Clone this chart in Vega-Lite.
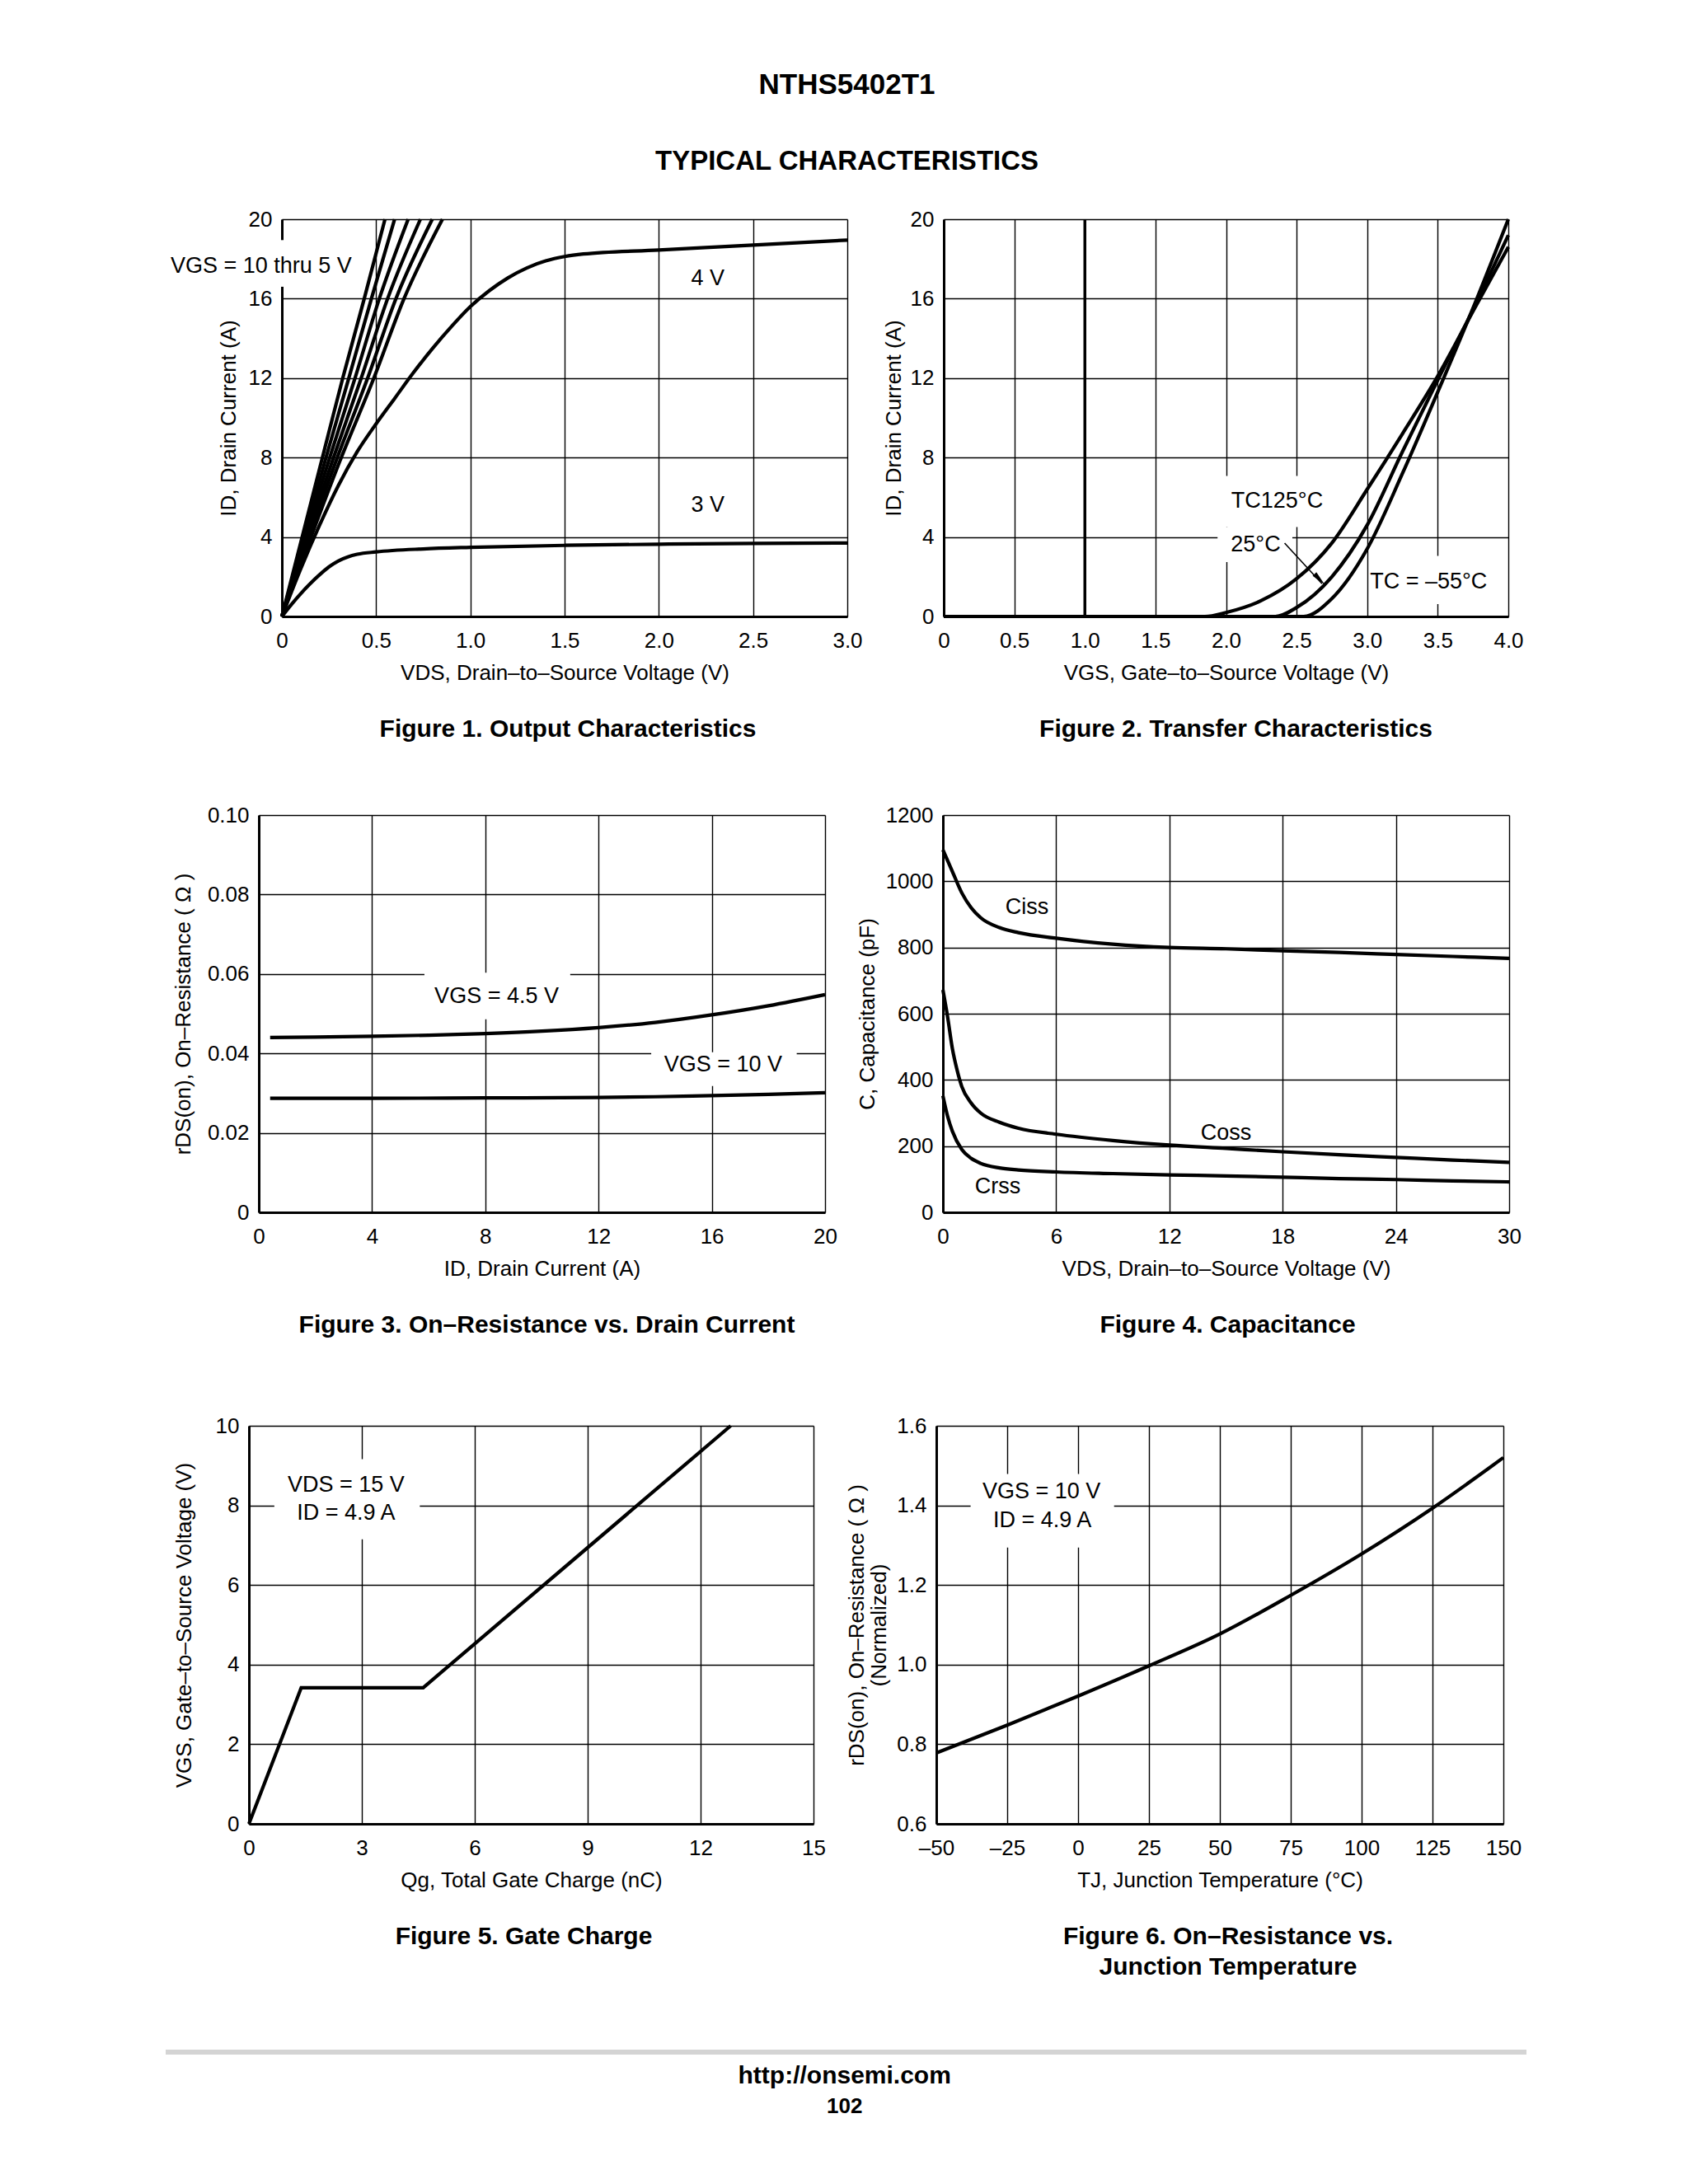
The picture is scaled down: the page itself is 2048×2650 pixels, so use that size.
{
  "$schema": "https://vega.github.io/schema/vega-lite/v6.json",
  "background": "white",
  "padding": {"left": 180, "top": 86, "right": 10, "bottom": 10},
  "title": {"text": "NTHS5402T1", "subtitle": "TYPICAL CHARACTERISTICS", "orient": "top", "anchor": "middle", "frame": "bounds", "dx": 10, "fontSize": 35, "fontWeight": "bold", "font": "Liberation Sans", "color": "#000", "subtitleFont": "Liberation Sans", "subtitleFontSize": 33, "subtitleFontWeight": "bold", "subtitleColor": "#000", "subtitlePadding": 59, "offset": 40},
  "spacing": 0,
  "config": {
    "font": "Liberation Sans",
    "view": {"stroke": null},
    "axis": {"grid": true, "gridColor": "#000", "gridWidth": 1.4, "gridOpacity": 1, "domainColor": "#000", "domainWidth": 3, "ticks": false, "tickSize": 0, "labelFont": "Liberation Sans", "labelFontSize": 26, "labelColor": "#000", "labelFlush": false, "labelOverlap": false, "titleFont": "Liberation Sans", "titleFontSize": 26, "titleFontWeight": "normal", "titleColor": "#000"},
    "axisX": {"labelPadding": 16, "titlePadding": 13},
    "axisY": {"labelPadding": 12, "titlePadding": 9},
    "title": {"font": "Liberation Sans", "fontSize": 30, "fontWeight": "bold", "color": "#000", "orient": "bottom", "offset": 41, "anchor": "middle", "frame": "group"},
    "line": {"color": "#000", "strokeWidth": 4.2},
    "text": {"font": "Liberation Sans", "fontSize": 27, "color": "#000", "baseline": "middle", "align": "center"}
  },
  "vconcat": [
    {
      "spacing": 24,
      "hconcat": [
        {"width": 2, "height": 1, "data": {"values": []}, "mark": "point"},
        {
          "width": 686, "height": 482,
          "title": {"text": "Figure 1. Output Characteristics", "dx": 4},
          "encoding": {
            "x": {"field": "x", "type": "quantitative", "scale": {"domain": [0, 3], "nice": false, "zero": false}, "axis": {"values": [0, 0.5, 1, 1.5, 2, 2.5, 3], "labelExpr": "datum.value == 0 ? '0' : format(datum.value, '.1f')"}, "title": "VDS, Drain–to–Source Voltage (V)"},
            "y": {"field": "y", "type": "quantitative", "scale": {"domain": [0, 20], "nice": false, "zero": false}, "axis": {"values": [0, 4, 8, 12, 16, 20], "titlePadding": 11}, "title": "ID, Drain Current (A)"}
          },
          "layer": [
            {"data": {"values": [{"x": -0.03, "x2": 0.03, "y": 16.6, "y2": 18.95}]}, "mark": {"type": "rect", "fill": "white"}, "encoding": {"x2": {"field": "x2"}, "y2": {"field": "y2"}}},
            {"data": {"values": [
              {"s": "10", "x": 0, "y": 0}, {"s": "10", "x": 0.215, "y": 8}, {"s": "10", "x": 0.323, "y": 12}, {"s": "10", "x": 0.437, "y": 16}, {"s": "10", "x": 0.547, "y": 20},
              {"s": "9", "x": 0, "y": 0}, {"s": "9", "x": 0.234, "y": 8}, {"s": "9", "x": 0.355, "y": 12}, {"s": "9", "x": 0.475, "y": 16}, {"s": "9", "x": 0.598, "y": 20},
              {"s": "8", "x": 0, "y": 0}, {"s": "8", "x": 0.254, "y": 8}, {"s": "8", "x": 0.388, "y": 12}, {"s": "8", "x": 0.517, "y": 16}, {"s": "8", "x": 0.67, "y": 20},
              {"s": "7", "x": 0, "y": 0}, {"s": "7", "x": 0.274, "y": 8}, {"s": "7", "x": 0.421, "y": 12}, {"s": "7", "x": 0.561, "y": 16}, {"s": "7", "x": 0.735, "y": 20},
              {"s": "6", "x": 0, "y": 0}, {"s": "6", "x": 0.294, "y": 8}, {"s": "6", "x": 0.455, "y": 12}, {"s": "6", "x": 0.605, "y": 16}, {"s": "6", "x": 0.798, "y": 20},
              {"s": "5", "x": 0, "y": 0}, {"s": "5", "x": 0.315, "y": 8}, {"s": "5", "x": 0.488, "y": 12}, {"s": "5", "x": 0.648, "y": 16}, {"s": "5", "x": 0.852, "y": 20},
              {"s": "4", "x": 0, "y": 0}, {"s": "4", "x": 0.1, "y": 2.4}, {"s": "4", "x": 0.2, "y": 4.6}, {"s": "4", "x": 0.3, "y": 6.6}, {"s": "4", "x": 0.4, "y": 8.3}, {"s": "4", "x": 0.5, "y": 9.7}, {"s": "4", "x": 0.6, "y": 11.0}, {"s": "4", "x": 0.7, "y": 12.3}, {"s": "4", "x": 0.8, "y": 13.5}, {"s": "4", "x": 0.9, "y": 14.6}, {"s": "4", "x": 1.0, "y": 15.6}, {"s": "4", "x": 1.1, "y": 16.4}, {"s": "4", "x": 1.2, "y": 17.05}, {"s": "4", "x": 1.3, "y": 17.55}, {"s": "4", "x": 1.4, "y": 17.9}, {"s": "4", "x": 1.5, "y": 18.12}, {"s": "4", "x": 1.6, "y": 18.25}, {"s": "4", "x": 2.0, "y": 18.45}, {"s": "4", "x": 2.5, "y": 18.7}, {"s": "4", "x": 3.0, "y": 18.95},
              {"s": "3", "x": 0, "y": 0}, {"s": "3", "x": 0.05, "y": 0.6}, {"s": "3", "x": 0.1, "y": 1.15}, {"s": "3", "x": 0.15, "y": 1.65}, {"s": "3", "x": 0.2, "y": 2.1}, {"s": "3", "x": 0.25, "y": 2.5}, {"s": "3", "x": 0.3, "y": 2.8}, {"s": "3", "x": 0.35, "y": 3.0}, {"s": "3", "x": 0.4, "y": 3.13}, {"s": "3", "x": 0.5, "y": 3.25}, {"s": "3", "x": 0.75, "y": 3.4}, {"s": "3", "x": 1.0, "y": 3.48}, {"s": "3", "x": 1.5, "y": 3.58}, {"s": "3", "x": 2.0, "y": 3.64}, {"s": "3", "x": 2.5, "y": 3.68}, {"s": "3", "x": 3.0, "y": 3.7}
            ]}, "mark": {"type": "line", "interpolate": "monotone"}, "encoding": {"detail": {"field": "s", "type": "nominal"}}},
            {"data": {"values": [
              {"x": -0.11, "y": 17.64, "t": "VGS = 10 thru 5 V"},
              {"x": 2.26, "y": 17.0, "t": "4 V"},
              {"x": 2.26, "y": 5.6, "t": "3 V"}
            ]}, "mark": "text", "encoding": {"text": {"field": "t"}}}
          ]
        },
        {
          "width": 685, "height": 482,
          "title": {"text": "Figure 2. Transfer Characteristics", "dx": 12},
          "encoding": {
            "x": {"field": "x", "type": "quantitative", "scale": {"domain": [0, 4], "nice": false, "zero": false}, "axis": {"values": [0, 0.5, 1, 1.5, 2, 2.5, 3, 3.5, 4], "labelExpr": "datum.value == 0 ? '0' : format(datum.value, '.1f')"}, "title": "VGS, Gate–to–Source Voltage (V)"},
            "y": {"field": "y", "type": "quantitative", "scale": {"domain": [0, 20], "nice": false, "zero": false}, "axis": {"values": [0, 4, 8, 12, 16, 20], "titlePadding": 7}, "title": "ID, Drain Current (A)"}
          },
          "layer": [
            {"data": {"values": [
              {"x": 1.95, "x2": 2.75, "y": 4.5, "y2": 7.07},
              {"x": 1.94, "x2": 2.47, "y": 2.74, "y2": 4.5},
              {"x": 3.03, "x2": 3.85, "y": 0.62, "y2": 3.05}
            ]}, "mark": {"type": "rect", "fill": "white"}, "encoding": {"x2": {"field": "x2"}, "y2": {"field": "y2"}}},
            {"data": {"values": [{"x": 1.0, "y": 0, "y2": 20}]}, "mark": {"type": "rule", "color": "#000", "strokeWidth": 3.5}, "encoding": {"y2": {"field": "y2"}}},
            {"data": {"values": [
              {"s": "125", "x": 0, "y": 0}, {"s": "125", "x": 1.85, "y": 0}, {"s": "125", "x": 2.0, "y": 0.2}, {"s": "125", "x": 2.25, "y": 0.8}, {"s": "125", "x": 2.5, "y": 1.9}, {"s": "125", "x": 2.75, "y": 3.7}, {"s": "125", "x": 3.0, "y": 6.4}, {"s": "125", "x": 3.25, "y": 9.2}, {"s": "125", "x": 3.5, "y": 12.1}, {"s": "125", "x": 3.76, "y": 15.5}, {"s": "125", "x": 4.0, "y": 18.6},
              {"s": "25", "x": 0, "y": 0}, {"s": "25", "x": 2.35, "y": 0}, {"s": "25", "x": 2.5, "y": 0.45}, {"s": "25", "x": 2.75, "y": 2.0}, {"s": "25", "x": 3.0, "y": 4.6}, {"s": "25", "x": 3.25, "y": 8.3}, {"s": "25", "x": 3.5, "y": 11.9}, {"s": "25", "x": 3.76, "y": 15.6}, {"s": "25", "x": 4.0, "y": 19.2},
              {"s": "-55", "x": 0, "y": 0}, {"s": "-55", "x": 2.55, "y": 0}, {"s": "-55", "x": 2.75, "y": 0.9}, {"s": "-55", "x": 3.0, "y": 3.4}, {"s": "-55", "x": 3.25, "y": 7.2}, {"s": "-55", "x": 3.5, "y": 11.3}, {"s": "-55", "x": 3.76, "y": 15.7}, {"s": "-55", "x": 4.0, "y": 20}
            ]}, "mark": {"type": "line", "interpolate": "monotone"}, "encoding": {"detail": {"field": "s", "type": "nominal"}}},
            {"data": {"values": [{"x": 2.415, "y": 3.69, "x2": 2.68, "y2": 1.65}]}, "mark": {"type": "rule", "color": "#000", "strokeWidth": 1.6}, "encoding": {"x2": {"field": "x2"}, "y2": {"field": "y2"}}},
            {"data": {"values": [{"x": 2.70, "y": 1.6}]}, "mark": {"type": "point", "shape": "M0,0L-0.35,-2L0.35,-2Z", "size": 324, "angle": 316, "filled": true, "color": "#000", "opacity": 1}},
            {"data": {"values": [
              {"x": 2.362, "y": 5.82, "t": "TC125°C"},
              {"x": 2.21, "y": 3.6, "t": "25°C"},
              {"x": 3.435, "y": 1.73, "t": "TC = –55°C"}
            ]}, "mark": "text", "encoding": {"text": {"field": "t"}}}
          ]
        }
      ]
    },
    {"width": 1, "height": 76, "data": {"values": []}, "mark": "point"},
    {
      "spacing": 23,
      "hconcat": [
        {"width": 6, "height": 1, "data": {"values": []}, "mark": "point"},
        {
          "width": 687, "height": 482,
          "title": {"text": "Figure 3. On–Resistance vs. Drain Current", "dx": 6},
          "encoding": {
            "x": {"field": "x", "type": "quantitative", "scale": {"domain": [0, 20], "nice": false, "zero": false}, "axis": {"values": [0, 4, 8, 12, 16, 20]}, "title": "ID, Drain Current (A)"},
            "y": {"field": "y", "type": "quantitative", "scale": {"domain": [0, 0.1], "nice": false, "zero": false}, "axis": {"values": [0, 0.02, 0.04, 0.06, 0.08, 0.1], "labelExpr": "datum.value == 0 ? '0' : format(datum.value, '.2f')", "titlePadding": 16}, "title": "rDS(on), On–Resistance ( Ω )"}
          },
          "layer": [
            {"data": {"values": [
              {"x": 5.85, "x2": 11.0, "y": 0.0486, "y2": 0.0603},
              {"x": 13.86, "x2": 19.0, "y": 0.0318, "y2": 0.0403}
            ]}, "mark": {"type": "rect", "fill": "white"}, "encoding": {"x2": {"field": "x2"}, "y2": {"field": "y2"}}},
            {"data": {"values": [
              {"s": "4.5", "x": 0.4, "y": 0.044}, {"s": "4.5", "x": 2, "y": 0.0441}, {"s": "4.5", "x": 4, "y": 0.0443}, {"s": "4.5", "x": 6, "y": 0.0446}, {"s": "4.5", "x": 8, "y": 0.045}, {"s": "4.5", "x": 10, "y": 0.0456}, {"s": "4.5", "x": 12, "y": 0.0465}, {"s": "4.5", "x": 14, "y": 0.0478}, {"s": "4.5", "x": 16, "y": 0.0497}, {"s": "4.5", "x": 18, "y": 0.052}, {"s": "4.5", "x": 20, "y": 0.0548},
              {"s": "10", "x": 0.4, "y": 0.0287}, {"s": "10", "x": 4, "y": 0.0287}, {"s": "10", "x": 8, "y": 0.0288}, {"s": "10", "x": 12, "y": 0.0289}, {"s": "10", "x": 14, "y": 0.0291}, {"s": "10", "x": 16, "y": 0.0294}, {"s": "10", "x": 18, "y": 0.0297}, {"s": "10", "x": 20, "y": 0.0301}
            ]}, "mark": {"type": "line", "interpolate": "monotone"}, "encoding": {"detail": {"field": "s", "type": "nominal"}}},
            {"data": {"values": [
              {"x": 8.4, "y": 0.0543, "t": "VGS = 4.5 V"},
              {"x": 16.4, "y": 0.0371, "t": "VGS = 10 V"}
            ]}, "mark": "text", "encoding": {"text": {"field": "t"}}}
          ]
        },
        {
          "width": 687, "height": 482,
          "title": {"text": "Figure 4. Capacitance", "dx": 2},
          "encoding": {
            "x": {"field": "x", "type": "quantitative", "scale": {"domain": [0, 30], "nice": false, "zero": false}, "axis": {"values": [0, 6, 12, 18, 24, 30]}, "title": "VDS, Drain–to–Source Voltage (V)"},
            "y": {"field": "y", "type": "quantitative", "scale": {"domain": [0, 1200], "nice": false, "zero": false}, "axis": {"values": [0, 200, 400, 600, 800, 1000, 1200], "format": "d"}, "title": "C, Capacitance (pF)"}
          },
          "layer": [
            {"data": {"values": [
              {"s": "iss", "x": 0, "y": 1095}, {"s": "iss", "x": 0.5, "y": 1030}, {"s": "iss", "x": 1, "y": 965}, {"s": "iss", "x": 1.5, "y": 920}, {"s": "iss", "x": 2, "y": 890}, {"s": "iss", "x": 3, "y": 860}, {"s": "iss", "x": 4, "y": 845}, {"s": "iss", "x": 6, "y": 828}, {"s": "iss", "x": 9, "y": 810}, {"s": "iss", "x": 12, "y": 800}, {"s": "iss", "x": 15, "y": 796}, {"s": "iss", "x": 18, "y": 790}, {"s": "iss", "x": 21, "y": 785}, {"s": "iss", "x": 24, "y": 779}, {"s": "iss", "x": 27, "y": 773}, {"s": "iss", "x": 30, "y": 767},
              {"s": "oss", "x": 0, "y": 672}, {"s": "oss", "x": 0.25, "y": 590}, {"s": "oss", "x": 0.5, "y": 495}, {"s": "oss", "x": 0.75, "y": 430}, {"s": "oss", "x": 1, "y": 380}, {"s": "oss", "x": 1.5, "y": 330}, {"s": "oss", "x": 2, "y": 300}, {"s": "oss", "x": 3, "y": 272}, {"s": "oss", "x": 4, "y": 254}, {"s": "oss", "x": 6, "y": 236}, {"s": "oss", "x": 9, "y": 217}, {"s": "oss", "x": 12, "y": 203}, {"s": "oss", "x": 15, "y": 193}, {"s": "oss", "x": 18, "y": 183}, {"s": "oss", "x": 21, "y": 174}, {"s": "oss", "x": 24, "y": 166}, {"s": "oss", "x": 27, "y": 158}, {"s": "oss", "x": 30, "y": 151},
              {"s": "rss", "x": 0, "y": 352}, {"s": "rss", "x": 0.25, "y": 290}, {"s": "rss", "x": 0.5, "y": 245}, {"s": "rss", "x": 1, "y": 190}, {"s": "rss", "x": 1.5, "y": 163}, {"s": "rss", "x": 2, "y": 148}, {"s": "rss", "x": 3, "y": 134}, {"s": "rss", "x": 4, "y": 128}, {"s": "rss", "x": 6, "y": 122}, {"s": "rss", "x": 9, "y": 117}, {"s": "rss", "x": 12, "y": 113}, {"s": "rss", "x": 15, "y": 110}, {"s": "rss", "x": 18, "y": 106}, {"s": "rss", "x": 21, "y": 102}, {"s": "rss", "x": 24, "y": 99}, {"s": "rss", "x": 27, "y": 95}, {"s": "rss", "x": 30, "y": 92}
            ]}, "mark": {"type": "line", "interpolate": "monotone"}, "encoding": {"detail": {"field": "s", "type": "nominal"}}},
            {"data": {"values": [
              {"x": 4.45, "y": 922, "t": "Ciss"},
              {"x": 15.0, "y": 239, "t": "Coss"},
              {"x": 2.9, "y": 77, "t": "Crss"}
            ]}, "mark": "text", "encoding": {"text": {"field": "t"}}}
          ]
        }
      ]
    },
    {"width": 1, "height": 94, "data": {"values": []}, "mark": "point"},
    {
      "spacing": 24,
      "hconcat": [
        {"width": 6, "height": 1, "data": {"values": []}, "mark": "point"},
        {
          "width": 685, "height": 483,
          "title": {"text": "Figure 5. Gate Charge", "dx": -9},
          "encoding": {
            "x": {"field": "x", "type": "quantitative", "scale": {"domain": [0, 15], "nice": false, "zero": false}, "axis": {"values": [0, 3, 6, 9, 12, 15]}, "title": "Qg, Total Gate Charge (nC)"},
            "y": {"field": "y", "type": "quantitative", "scale": {"domain": [0, 10], "nice": false, "zero": false}, "axis": {"values": [0, 2, 4, 6, 8, 10], "titlePadding": 25}, "title": "VGS, Gate–to–Source Voltage (V)"}
          },
          "layer": [
            {"data": {"values": [{"x": 0.675, "x2": 4.54, "y": 7.15, "y2": 9.16}]}, "mark": {"type": "rect", "fill": "white"}, "encoding": {"x2": {"field": "x2"}, "y2": {"field": "y2"}}},
            {"data": {"values": [
              {"x": 0, "y": 0}, {"x": 1.39, "y": 3.42}, {"x": 4.63, "y": 3.42}, {"x": 12.8, "y": 10}
            ]}, "mark": {"type": "line", "interpolate": "linear"}},
            {"data": {"values": [
              {"x": 2.58, "y": 8.5, "t": "VDS = 15 V"},
              {"x": 2.58, "y": 7.8, "t": "ID = 4.9 A"}
            ]}, "mark": "text", "encoding": {"text": {"field": "t"}}}
          ]
        },
        {
          "width": 688, "height": 483,
          "title": {"text": ["Figure 6. On–Resistance vs.", "Junction Temperature"], "dx": 10, "lineHeight": 37},
          "encoding": {
            "x": {"field": "x", "type": "quantitative", "scale": {"domain": [-50, 150], "nice": false, "zero": false}, "axis": {"values": [-50, -25, 0, 25, 50, 75, 100, 125, 150], "labelExpr": "datum.value < 0 ? '–' + abs(datum.value) : '' + datum.value"}, "title": "TJ, Junction Temperature (°C)"},
            "y": {"field": "y", "type": "quantitative", "scale": {"domain": [0.6, 1.6], "nice": false, "zero": false}, "axis": {"values": [0.6, 0.8, 1.0, 1.2, 1.4, 1.6], "labelExpr": "format(datum.value, '.1f')", "titlePadding": 8, "titleLineHeight": 27}, "title": ["rDS(on), On–Resistance ( Ω )", "(Normalized)"]}
          },
          "layer": [
            {"data": {"values": [{"x": -37.9, "x2": 12.7, "y": 1.294, "y2": 1.479}]}, "mark": {"type": "rect", "fill": "white"}, "encoding": {"x2": {"field": "x2"}, "y2": {"field": "y2"}}},
            {"data": {"values": [
              {"x": -50, "y": 0.778}, {"x": -25, "y": 0.848}, {"x": 0, "y": 0.921}, {"x": 25, "y": 0.997}, {"x": 50, "y": 1.077}, {"x": 75, "y": 1.174}, {"x": 100, "y": 1.278}, {"x": 125, "y": 1.393}, {"x": 150, "y": 1.52}
            ]}, "mark": {"type": "line", "interpolate": "monotone"}},
            {"data": {"values": [
              {"x": -12.9, "y": 1.434, "t": "VGS = 10 V"},
              {"x": -12.6, "y": 1.362, "t": "ID = 4.9 A"}
            ]}, "mark": "text", "encoding": {"text": {"field": "t"}}}
          ]
        }
      ]
    },
    {"width": 1, "height": 85, "data": {"values": []}, "mark": "point"},
    {
      "spacing": 0,
      "hconcat": [
        {"width": 18, "height": 1, "data": {"values": []}, "mark": "point"},
        {
          "width": 1651, "height": 70,
          "encoding": {
            "x": {"field": "x", "type": "quantitative", "scale": {"domain": [0, 1], "nice": false, "zero": false}, "axis": null},
            "y": {"field": "y", "type": "quantitative", "scale": {"domain": [0, 1], "nice": false, "zero": false}, "axis": null}
          },
          "layer": [
            {"data": {"values": [{"x": 0, "x2": 1, "y": 1}]}, "mark": {"type": "rule", "color": "#d4d4d4", "strokeWidth": 6}, "encoding": {"x2": {"field": "x2"}}},
            {"data": {"values": [{"x": 0.4989, "y": 0.586, "t": "http://onsemi.com"}]}, "mark": {"type": "text", "fontSize": 30, "fontWeight": "bold"}, "encoding": {"text": {"field": "t"}}},
            {"data": {"values": [{"x": 0.4989, "y": 0.06, "t": "102"}]}, "mark": {"type": "text", "fontSize": 26, "fontWeight": "bold"}, "encoding": {"text": {"field": "t"}}}
          ]
        }
      ]
    }
  ]
}
